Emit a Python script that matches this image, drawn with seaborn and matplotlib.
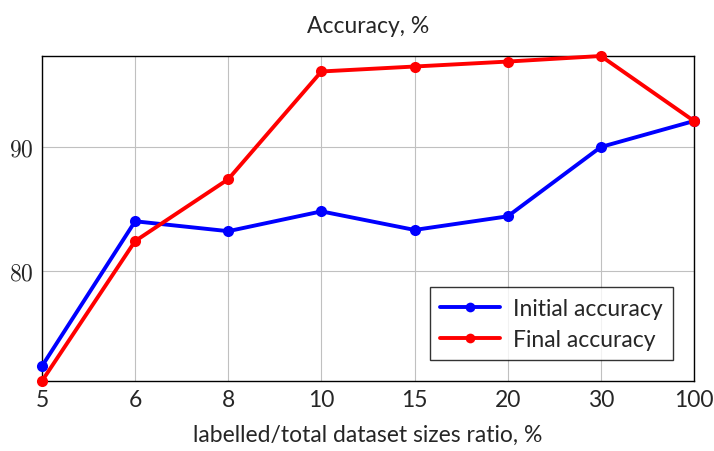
import pandas as pd
import matplotlib
matplotlib.use("Agg")
import matplotlib.pyplot as plt
import seaborn as sns

# data
ratios = ["5", "6", "8", "10", "15", "20", "30", "100"]
initial_acc = [72.3, 84.0, 83.2, 84.8, 83.3, 84.4, 90.0, 92.1]
final_acc = [71.1, 82.4, 87.4, 96.1, 96.5, 96.9, 97.35, 92.1]

pos = list(range(len(ratios)))
df = pd.concat([
    pd.DataFrame({"pos": pos, "acc": initial_acc, "series": "Initial accuracy"}),
    pd.DataFrame({"pos": pos, "acc": final_acc, "series": "Final accuracy"}),
])

sns.set_style("white")
plt.rcParams["font.family"] = ["Lato", "DejaVu Sans"]
plt.rcParams["mathtext.fontset"] = "cm"

fig = plt.figure(figsize=(7.14, 4.52), dpi=100)
ax = fig.add_axes([0.0588, 0.1549, 0.9132, 0.719])

sns.lineplot(data=df, x="pos", y="acc", hue="series",
             palette={"Initial accuracy": "#0000ff", "Final accuracy": "#ff0000"},
             marker="o", markersize=8, markeredgewidth=0, linewidth=2.8,
             ax=ax, zorder=3, clip_on=False)

ax.set_xlim(0, len(ratios) - 1)
ax.set_ylim(min(final_acc + initial_acc), max(final_acc + initial_acc))
ax.set_xticks(pos)
ax.set_xticklabels(ratios, fontsize=16.5)
ax.set_yticks([80, 90])
ax.set_yticklabels([r"$80$", r"$90$"], fontsize=17)
ax.grid(True, color="#c0c0c0", linewidth=0.8)
ax.tick_params(axis="both", direction="in", length=5, color="#555555", pad=6)
for s in ax.spines.values():
    s.set_color("black")
    s.set_linewidth(1.0)

ax.set_title("Accuracy, %", fontsize=16.5, pad=17)
ax.set_xlabel("labelled/total dataset sizes ratio, %", fontsize=16.5, labelpad=10)
ax.set_ylabel("")

leg = ax.legend(loc="lower right", fontsize=16.5, frameon=True, fancybox=False,
                edgecolor="black", borderaxespad=0.9, handlelength=2.6,
                borderpad=0.45, labelspacing=0.45, handletextpad=0.6)
leg.get_frame().set_linewidth(1.0)
for h in leg.legend_handles:
    h.set_markersize(7)

fig.savefig("out.png", dpi=100)
